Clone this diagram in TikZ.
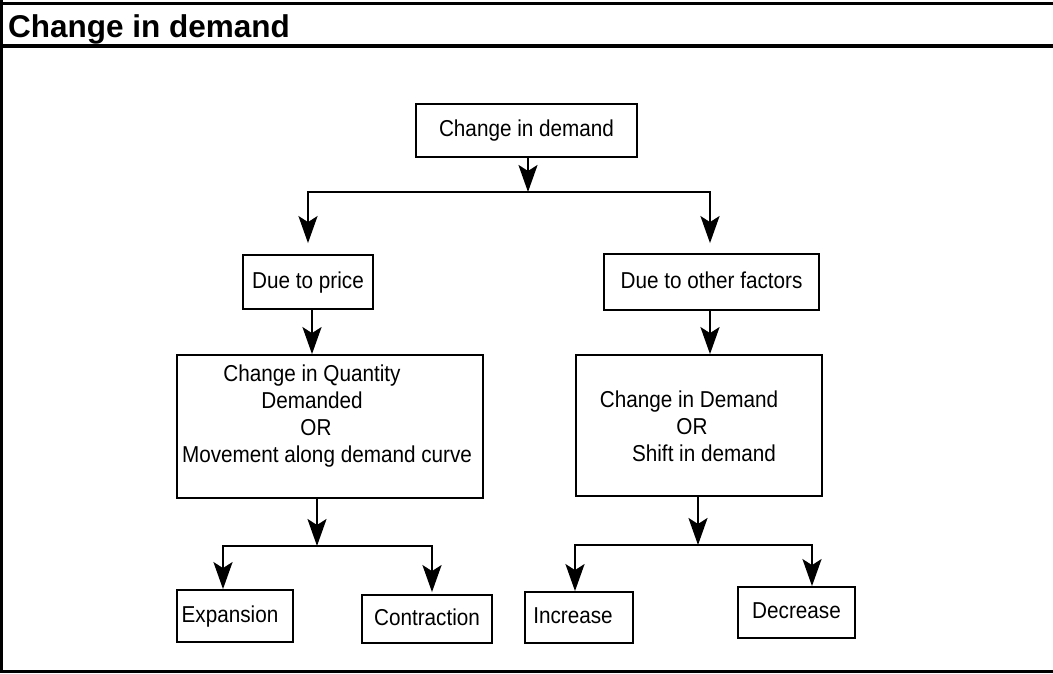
\documentclass[tikz,border=0pt]{standalone}
\usepackage{fontspec}
\setmainfont{Liberation Sans}
\newfontfamily\boxfont{Liberation Sans}[FakeStretch=0.9]
\usetikzlibrary{arrows.meta}
\tikzset{
  box/.style={draw, line width=1.8pt, inner sep=0pt, font=\boxfont\fontsize{23}{27}\selectfont, text height=16.5pt, text depth=4.5pt},
  boxtext/.style={inner sep=0pt, font=\boxfont\fontsize{23}{27}\selectfont, align=center},
  conn/.style={line width=2.4pt},
  arr/.style={conn, -{Stealth[length=27pt,width=19pt,inset=6pt]}},
}
\begin{document}
\begin{tikzpicture}[x=1pt,y=-1pt]
\useasboundingbox (0,0) rectangle (1053,673);
% frame
\draw[line width=3.5pt] (0,3.3) -- (1053,3.3);
\draw[line width=4pt] (0,45.5) -- (1053,45.5);
\draw[line width=3.4pt] (1.7,0) -- (1.7,673);
\draw[line width=2.6pt] (0,671.5) -- (1053,671.5);
\node[anchor=base west, inner sep=0pt, font=\bfseries\fontsize{31.5}{36}\selectfont] (title) at (8,37) {Change in demand};
% boxes
\node[box, minimum width=221pt, minimum height=53pt] (top) at (526.5,130.5) {Change in demand};
\node[box, minimum width=130pt, minimum height=54pt] (price) at (308,282) {Due to price};
\node[box, minimum width=215pt, minimum height=56pt] (other) at (711.5,282) {Due to other factors};
\node[box, minimum width=306pt, minimum height=143pt] (qd) at (330,426.5) {};
\node[boxtext] (qdt) at (327,416.5) {\hspace*{-30pt}Change in Quantity\\ \hspace*{-30pt}Demanded\\ \hspace*{-22pt}OR\\ Movement along demand curve};
\node[box, minimum width=246pt, minimum height=141pt] (dem) at (699,425.5) {};
\node[boxtext] (demt) at (689,426.5) {Change in Demand\\ \hspace*{6pt}OR\\ \hspace*{30pt}Shift in demand};
\node[box, minimum width=116pt, minimum height=52pt] (exp) at (235,616) {\hspace*{-10pt}Expansion};
\node[box, minimum width=130pt, minimum height=48pt] (con) at (427,619) {Contraction};
\node[box, minimum width=108pt, minimum height=51pt] (inc) at (579,617.5) {\hspace*{-12pt}Increase};
\node[box, minimum width=117pt, minimum height=51pt] (dec) at (796.5,612.5) {Decrease};
% junctions
\coordinate (j1) at (528,192);
\coordinate (j1l) at (308,192);
\coordinate (j1r) at (710,192);
\coordinate (j2) at (317,546);
\coordinate (j2l) at (223,546);
\coordinate (j2r) at (432,546);
\coordinate (j3) at (698,545);
\coordinate (j3l) at (575,545);
\coordinate (j3r) at (812,545);
% connectors
\draw[arr] (top.south -| j1) -- (j1);
\draw[arr, shorten >=11pt] (j1) -- (j1l) -- (j1l |- price.north);
\draw[arr, shorten >=10pt] (j1) -- (j1r) -- (j1r |- other.north);
\draw[arr] ([xshift=4pt]price.south) -- ([xshift=4pt]price.south |- qd.north);
\draw[arr] ([xshift=-1.5pt]other.south) -- ([xshift=-1.5pt]other.south |- dem.north);
\draw[arr] (qd.south -| j2) -- (j2);
\draw[arr] (j2) -- (j2l) -- (j2l |- exp.north);
\draw[arr, shorten >=2pt] (j2) -- (j2r) -- (j2r |- con.north);
\draw[arr] (dem.south -| j3) -- (j3);
\draw[arr] (j3) -- (j3l) -- (j3l |- inc.north);
\draw[arr] (j3) -- (j3r) -- (j3r |- dec.north);
\end{tikzpicture}
\end{document}
